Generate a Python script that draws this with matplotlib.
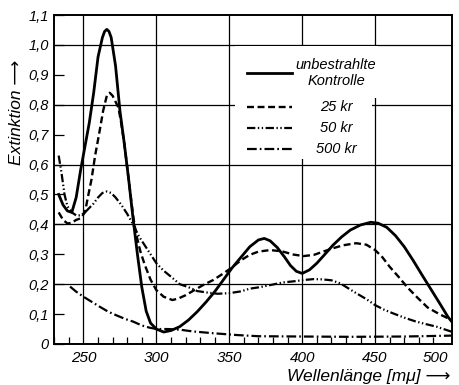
import matplotlib
matplotlib.use("Agg")
import matplotlib.pyplot as plt
from matplotlib.patches import Rectangle
from matplotlib.ticker import MultipleLocator, FixedLocator

plt.rcParams['font.family'] = ['Liberation Sans', 'DejaVu Sans']
plt.rcParams['font.style'] = 'italic'
plt.rcParams['lines.scale_dashes'] = False

# unbestrahlte Kontrolle
x_ctrl = [233, 236, 239, 242, 245, 248, 251, 254, 257, 260, 263, 264.5, 266, 267.5, 269, 272, 275,
          278, 281, 284, 287, 290, 293, 296, 300, 305, 310, 316, 322, 328, 334, 340, 346, 352, 358,
          364, 370, 374, 378, 383, 388, 392, 396, 400, 405, 410, 415, 421, 427, 433, 440, 447, 452,
          458, 464, 470, 476, 482, 488, 494, 500, 502.5]
y_ctrl = [0.50, 0.465, 0.445, 0.44, 0.49, 0.58, 0.66, 0.74, 0.84, 0.96, 1.025, 1.045, 1.052, 1.045,
          1.025, 0.93, 0.78, 0.67, 0.55, 0.42, 0.30, 0.19, 0.11, 0.07, 0.05, 0.04, 0.045, 0.058,
          0.08, 0.108, 0.14, 0.175, 0.215, 0.255, 0.29, 0.325, 0.348, 0.353, 0.345, 0.322, 0.29,
          0.262, 0.243, 0.236, 0.248, 0.27, 0.297, 0.33, 0.358, 0.381, 0.398, 0.407, 0.404, 0.39,
          0.362, 0.325, 0.28, 0.232, 0.185, 0.138, 0.09, 0.075]

# 25 kr
x_25 = [233, 236, 239, 242, 245, 248, 251, 253, 255.5, 258, 261, 263.5, 266, 268, 270, 272, 274, 276,
        278, 281, 284, 286, 289, 292, 296, 300, 305, 311, 315, 320, 326, 332, 339, 345, 351, 358, 364,
        370, 378, 386, 394, 401, 408, 415, 421, 428, 437, 444, 450, 455, 460, 466, 472, 479, 486, 494,
        502.5]
y_25 = [0.44, 0.415, 0.403, 0.405, 0.415, 0.42, 0.44, 0.49, 0.55, 0.63, 0.71, 0.78, 0.83, 0.84, 0.83,
        0.81, 0.79, 0.735, 0.67, 0.55, 0.43, 0.37, 0.31, 0.265, 0.215, 0.18, 0.158, 0.147, 0.152,
        0.163, 0.18, 0.197, 0.214, 0.233, 0.253, 0.28, 0.298, 0.309, 0.314, 0.31, 0.299, 0.294,
        0.298, 0.31, 0.32, 0.33, 0.337, 0.332, 0.314, 0.29, 0.258, 0.225, 0.19, 0.155, 0.122, 0.1,
        0.08]

# 50 kr
x_50 = [233, 235, 237, 239, 242, 245, 248, 251, 254, 257, 260, 263, 266, 269, 272, 276, 280, 284, 288,
        292, 296, 300, 305, 310, 316, 322, 328, 335, 342, 350, 358, 364, 371, 378, 387, 395, 401, 408,
        414, 420, 426, 432, 437, 444, 450, 456, 462, 470, 478, 486, 492, 502.5]
y_50 = [0.63, 0.57, 0.50, 0.46, 0.44, 0.43, 0.43, 0.44, 0.455, 0.47, 0.49, 0.505, 0.51, 0.505, 0.49,
        0.465, 0.435, 0.40, 0.36, 0.33, 0.30, 0.27, 0.245, 0.225, 0.20, 0.19, 0.177, 0.172, 0.168,
        0.17, 0.176, 0.185, 0.19, 0.197, 0.206, 0.21, 0.214, 0.217, 0.216, 0.213, 0.203, 0.185,
        0.17, 0.15, 0.13, 0.115, 0.103, 0.088, 0.075, 0.065, 0.058, 0.041]

# 500 kr
x_500 = [240.8, 245, 250, 256, 261, 267, 273, 279, 284, 290, 295, 300, 308, 316, 325, 339, 355, 370,
         400, 433, 470, 502.5]
y_500 = [0.192, 0.175, 0.158, 0.14, 0.125, 0.108, 0.095, 0.083, 0.075, 0.062, 0.055, 0.05, 0.05,
         0.048, 0.042, 0.036, 0.03, 0.026, 0.025, 0.024, 0.025, 0.028]

x_ticks = [250, 300, 350, 400, 450, 500]
x_ticklabels = ['250', '300', '350', '400', '450', '500']
y_ticks = [0, 0.1, 0.2, 0.3, 0.4, 0.5, 0.6, 0.7, 0.8, 0.9, 1.0, 1.1]
y_ticklabels = ['0', '0,1', '0,2', '0,3', '0,4', '0,5', '0,6', '0,7', '0,8', '0,9', '1,0', '1,1']
legend_labels = ['unbestrahlte\nKontrolle', '25 kr', '50 kr', '500 kr']

fig = plt.figure(figsize=(4.59, 3.85), dpi=100)
ax = fig.add_axes([0.1183, 0.1065, 0.8658, 0.8545])

ax.set_xlim(230, 502.5)
ax.set_ylim(0, 1.1)

# grid
for gx in [250, 300, 350, 400, 450]:
    ax.axvline(gx, color='black', lw=0.9, zorder=1)
for gy in [0.2, 0.4, 0.6, 0.8, 1.0]:
    ax.axhline(gy, color='black', lw=0.9, zorder=1)

# blank area behind legend
ax.add_patch(Rectangle((0.455, 0.748), 0.36, 0.158, transform=ax.transAxes,
                       facecolor='white', edgecolor='none', zorder=2))
ax.add_patch(Rectangle((0.455, 0.562), 0.345, 0.19, transform=ax.transAxes,
                       facecolor='white', edgecolor='none', zorder=2))

styles = ['-', (0, (5, 2.6)), (0, (6, 1.8, 1, 1.8, 1, 1.8)), (0, (7, 2.2, 1.2, 2.2))]
widths = [2.0, 1.7, 1.6, 1.6]
series = [(x_ctrl, y_ctrl), (x_25, y_25), (x_50, y_50), (x_500, y_500)]
for (xs, ys), ls, lw in zip(series, styles, widths):
    ax.plot(xs, ys, color='black', lw=lw, linestyle=ls, zorder=3)

# legend (manual)
leg_y = [0.823, 0.7195, 0.6556, 0.5927]
for ly, ls, lw, lab in zip(leg_y, styles, widths, legend_labels):
    ax.plot([0.484, 0.597], [ly, ly], transform=ax.transAxes, color='black', lw=lw,
            linestyle=ls, zorder=4)
    ax.text(0.709, ly, lab, transform=ax.transAxes, ha='center', va='center',
            fontsize=10.5, linespacing=1.15, zorder=4)

ax.xaxis.set_major_locator(FixedLocator(x_ticks))
ax.set_xticklabels(x_ticklabels)
ax.xaxis.set_minor_locator(MultipleLocator(10))
ax.yaxis.set_major_locator(FixedLocator(y_ticks))
ax.set_yticklabels(y_ticklabels)
ax.tick_params(axis='x', which='major', direction='in', length=0, pad=5, labelsize=11)
ax.tick_params(axis='x', which='minor', direction='in', length=5, width=0.9)
ax.tick_params(axis='y', which='major', direction='in', length=7, width=0.9, pad=4, labelsize=10.5)
xl = ax.get_xticklabels()
xl[-1].set_horizontalalignment('right')
xl[-1].set_x(503)
for sp in ax.spines.values():
    sp.set_linewidth(1.4)

fig.text(450 / 459, 1 - 377 / 385, 'Wellenlänge [mμ] ⟶', ha='right', va='center', fontsize=12.5)
fig.text(17 / 459, 1 - 112 / 385, 'Extinktion ⟶', ha='center', va='center', rotation=90,
         fontsize=12.5)

fig.savefig('out.png', dpi=100)
